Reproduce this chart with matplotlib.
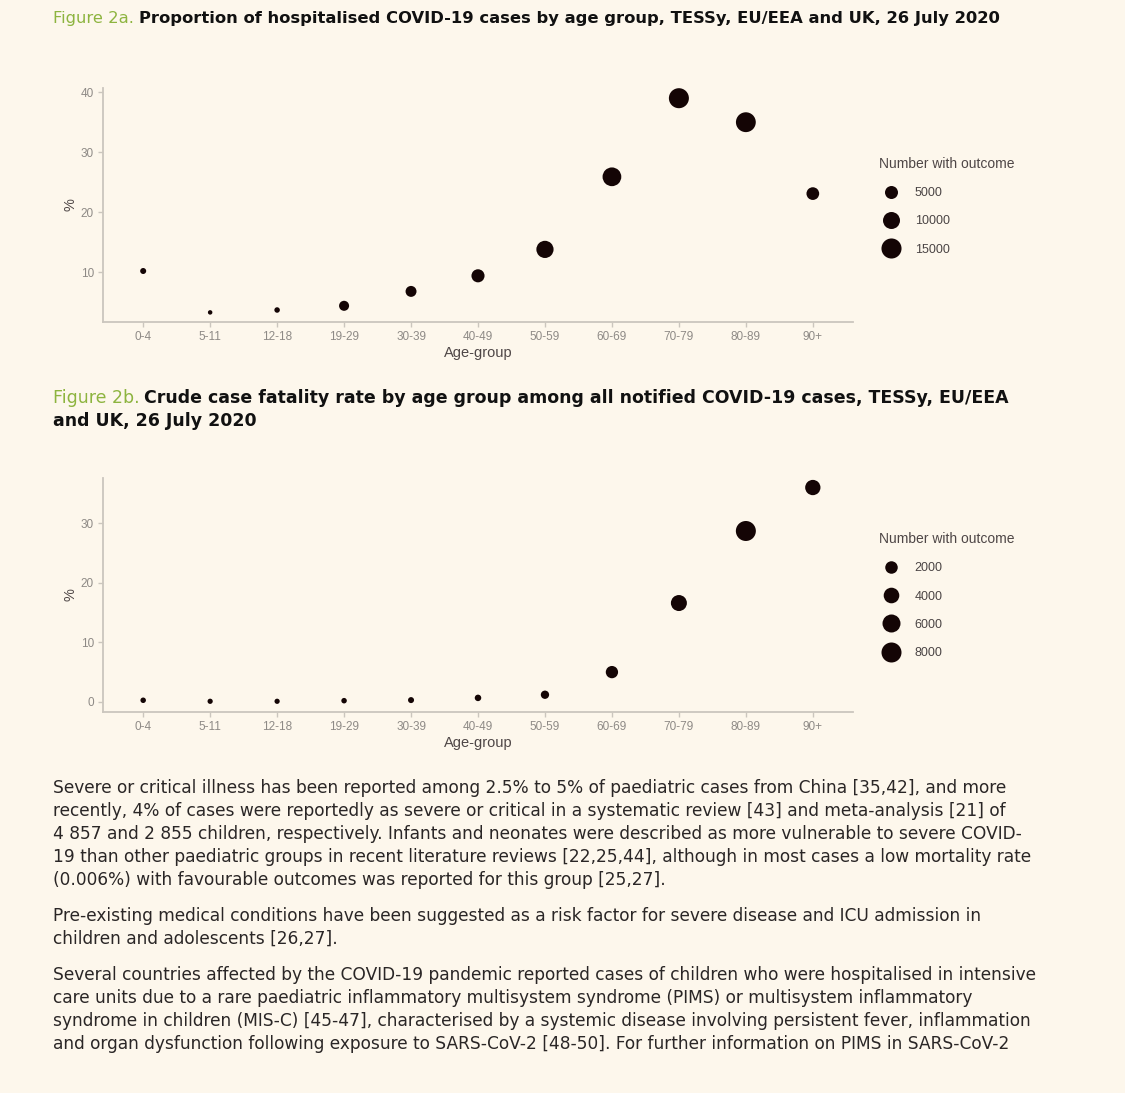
"""
ECDC figure 2a / 2b recreation: hospitalisation share and crude CFR by age
group, with point size giving the number of cases with the outcome.
"""

import matplotlib
matplotlib.use("Agg")

import matplotlib.pyplot as plt
from matplotlib.lines import Line2D

W, H = 1125, 1093

BG = "#FDF7EC"
DOT = "#140505"
GREEN = "#8DB43F"
SPINE = "#CBC6BE"
TICK_TXT = "#8E8A86"
LABEL_TXT = "#4E4646"
BODY_TXT = "#2A2626"

AGE_GROUPS = ["0-4", "5-11", "12-18", "19-29", "30-39", "40-49",
              "50-59", "60-69", "70-79", "80-89", "90+"]

HOSP_PCT = [10.2, 3.3, 3.7, 4.4, 6.8, 9.4, 13.8, 25.9, 39.0, 35.0, 23.1]
HOSP_N = [380, 70, 250, 2400, 3100, 5100, 10300, 12700, 14900, 14600, 4700]
HOSP_LEGEND = [5000, 10000, 15000]

# Figure 2b: crude case fatality rate (%), number of deaths
CFR_PCT = [0.27, 0.1, 0.1, 0.2, 0.3, 0.67, 1.2, 5.0, 16.6, 28.7, 36.0]
CFR_N = [9, 2, 2, 9, 36, 80, 390, 1890, 4300, 7990, 3770]
CFR_LEGEND = [2000, 4000, 6000, 8000]

TITLE_A = "Proportion of hospitalised COVID-19 cases by age group, TESSy, EU/EEA and UK, 26 July 2020"
TITLE_B = ["Crude case fatality rate by age group among all notified COVID-19 cases, TESSy, EU/EEA",
           "and UK, 26 July 2020"]

BODY = [
    "Severe or critical illness has been reported among 2.5% to 5% of paediatric cases from China [35,42], and more",
    "recently, 4% of cases were reportedly as severe or critical in a systematic review [43] and meta-analysis [21] of",
    "4 857 and 2 855 children, respectively. Infants and neonates were described as more vulnerable to severe COVID-",
    "19 than other paediatric groups in recent literature reviews [22,25,44], although in most cases a low mortality rate",
    "(0.006%) with favourable outcomes was reported for this group [25,27].",
    None,
    "Pre-existing medical conditions have been suggested as a risk factor for severe disease and ICU admission in",
    "children and adolescents [26,27].",
    None,
    "Several countries affected by the COVID-19 pandemic reported cases of children who were hospitalised in intensive",
    "care units due to a rare paediatric inflammatory multisystem syndrome (PIMS) or multisystem inflammatory",
    "syndrome in children (MIS-C) [45-47], characterised by a systemic disease involving persistent fever, inflammation",
    "and organ dysfunction following exposure to SARS-CoV-2 [48-50]. For further information on PIMS in SARS-CoV-2",
]

plt.rcParams["font.family"] = ["DejaVu Sans"]

fig = plt.figure(figsize=(W / 100, H / 100), dpi=100, facecolor=BG)
renderer = fig.canvas.get_renderer()


def fpos(x, y):
    return x / W, 1 - y / H


def width_at_10(s, **kw):
    t = fig.text(0, 0, s, fontsize=10, **kw)
    w = t.get_window_extent(renderer).width
    t.remove()
    return w


def figure_title(y, prefix, text, x_end, gap=5):
    """Green 'Figure 2x.' prefix followed by a bold title, spanning 53..x_end."""
    pre_w = width_at_10(prefix)
    bold_w = width_at_10(text, fontweight="bold")
    fs = 10 * (x_end - 53 - gap) / (pre_w + bold_w)
    fig.text(*fpos(53, y), prefix, color=GREEN, fontsize=fs, va="center")
    fig.text(*fpos(53 + pre_w * fs / 10 + gap, y), text, color="#111111",
             fontsize=fs, fontweight="bold", va="center")
    return fs


def diam_pt(n, a, k):
    # point diameter grows with sqrt(count), like ggplot's scale_size
    return (a + k * n ** 0.5) * 0.72


def size_panel(rect, pct, counts, yticks, ylim, legend_vals, a, k, leg_top):
    ax = fig.add_axes(rect)
    ax.set_facecolor(BG)
    xs = list(range(1, len(AGE_GROUPS) + 1))
    sizes = [diam_pt(n, a, k) ** 2 for n in counts]
    ax.scatter(xs, pct, s=sizes, color=DOT, linewidths=0, zorder=3)

    ax.set_xlim(0.4, len(AGE_GROUPS) + 0.6)
    ax.set_ylim(*ylim)
    ax.set_xticks(xs)
    ax.set_xticklabels(AGE_GROUPS)
    ax.set_yticks(yticks)
    for side in ("top", "right"):
        ax.spines[side].set_visible(False)
    for side in ("left", "bottom"):
        ax.spines[side].set_color(SPINE)
        ax.spines[side].set_linewidth(1.3)
    ax.tick_params(colors=SPINE, labelcolor=TICK_TXT, labelsize=8.5,
                   length=3.5, width=1, pad=3)
    for lab in ax.get_xticklabels() + ax.get_yticklabels():
        lab.set_family("Liberation Sans")
    ax.set_xlabel("Age-group", fontsize=10.5, color=LABEL_TXT,
                  family="Liberation Sans", labelpad=2)
    ax.set_ylabel("%", fontsize=10.5, color=LABEL_TXT,
                  family="Liberation Sans", labelpad=2)

    handles = [Line2D([], [], marker="o", linestyle="", color=DOT,
                      markeredgewidth=0, markersize=diam_pt(v, a, k))
               for v in legend_vals]
    leg = ax.legend(handles, [str(v) for v in legend_vals],
                    title="Number with outcome", loc="upper left",
                    bbox_to_anchor=fpos(879, leg_top), bbox_transform=fig.transFigure,
                    frameon=False, borderpad=0, borderaxespad=0,
                    handlelength=1.9, handletextpad=0.95, labelspacing=1.3,
                    alignment="left", prop={"family": "Liberation Sans", "size": 9})
    leg.get_title().set_fontsize(10)
    leg.get_title().set_family("Liberation Sans")
    leg.get_title().set_color(LABEL_TXT)
    for t in leg.get_texts():
        t.set_color("#4A4444")
    return ax


# ── titles ──────────────────────────────────────────────────────────────
figure_title(18, "Figure 2a.", TITLE_A, 1000)
fs_b = figure_title(398, "Figure 2b.", TITLE_B[0], 1012)
fig.text(*fpos(53, 421), TITLE_B[1], color="#111111", fontsize=fs_b,
         fontweight="bold", va="center")

# ── panels ──────────────────────────────────────────────────────────────
size_panel([103 / W, 1 - 322 / H, 750 / W, 234 / H], HOSP_PCT, HOSP_N,
           [10, 20, 30, 40], (1.7, 40.7), HOSP_LEGEND, 3.35, 0.1365, 157)
size_panel([103 / W, 1 - 712 / H, 750 / W, 234 / H], CFR_PCT, CFR_N,
           [0, 10, 20, 30], (-1.7, 37.6), CFR_LEGEND, 5.0, 0.1678, 532)

# ── body text ───────────────────────────────────────────────────────────
body_fs = 10 * 958 / width_at_10(BODY[0])
y = 788
for line in BODY:
    if line is None:
        y += 13
        continue
    fig.text(*fpos(53, y), line, color=BODY_TXT, fontsize=body_fs, va="center")
    y += 23

fig.savefig("out.png", dpi=100, facecolor=BG)
